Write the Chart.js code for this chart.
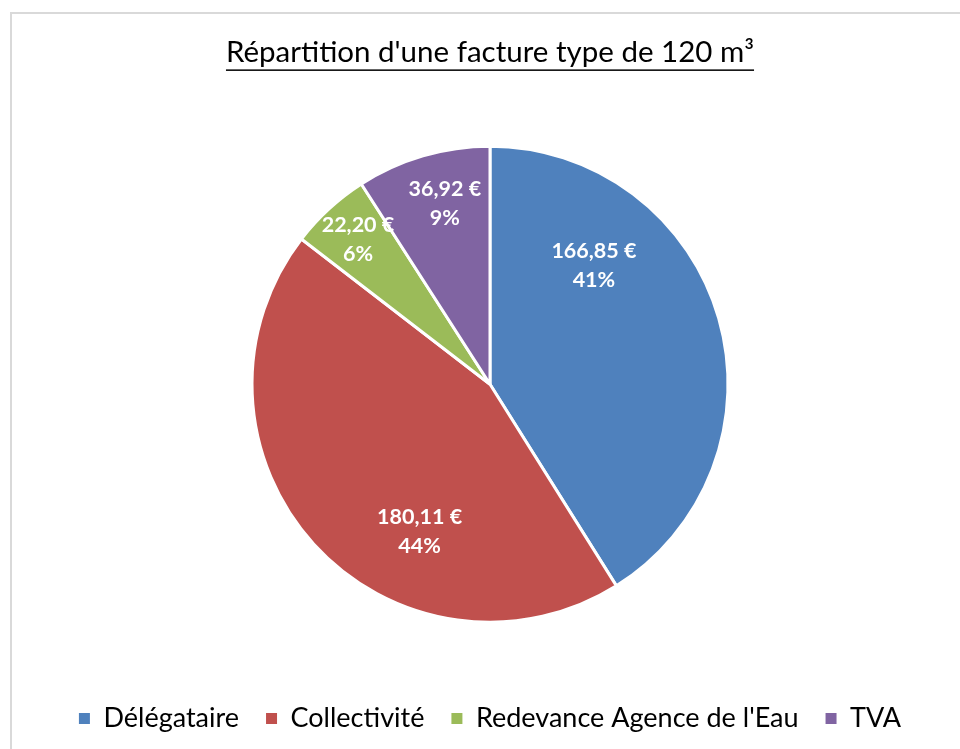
<!DOCTYPE html>
<html>
<head>
<meta charset="utf-8">
<script src="https://cdn.jsdelivr.net/npm/chart.js@4"></script>
<style>
	html, body { margin: 0; padding: 0; background: #fff; overflow: hidden; }
	body { width: 960px; height: 749px; position: relative; }
	#frame {
		position: absolute; left: 10px; top: 12px;
		width: 956px; height: 735px;
		border-left: 2px solid #d9d9d9; border-top: 2px solid #d9d9d9;
	}
</style>
</head>
<body>
<div id="frame"><canvas id="pie-chart" width="956" height="735"></canvas></div>
<script>
const categories = [ 'Délégataire', 'Collectivité', "Redevance Agence de l'Eau", 'TVA' ];
const amounts = [ 166.85, 180.11, 22.20, 36.92 ];
const percentLabels = [ '41%', '44%', '6%', '9%' ];
const colors = [ '#4F81BD', '#C0504D', '#9BBB59', '#8064A2' ];

// where Excel's "best fit" put each label: share of the slice's sweep, share of the radius
const labelSpots = [ [ 0.28, 0.66 ], [ 0.36, 0.69 ], [ 0.5, 0.82 ], [ 0.57, 0.78 ] ];

const font = 'Lato, "Open Sans", sans-serif';

const sliceLabels = {
	id: 'sliceLabels',
	afterDatasetsDraw( chart ) {
		const ctx = chart.ctx;
		const arcs = chart.getDatasetMeta( 0 ).data;
		ctx.save();
		ctx.fillStyle = '#fff';
		ctx.font = 'bold 21.5px ' + font;
		ctx.textAlign = 'center';
		ctx.textBaseline = 'middle';
		arcs.forEach( ( arc, i ) => {
			const p = arc.getProps( [ 'x', 'y', 'startAngle', 'endAngle', 'outerRadius' ], true );
			const a = p.startAngle + labelSpots[ i ][ 0 ] * ( p.endAngle - p.startAngle );
			const r = labelSpots[ i ][ 1 ] * p.outerRadius;
			const x = p.x + Math.cos( a ) * r;
			const y = p.y + Math.sin( a ) * r;
			const money = amounts[ i ].toFixed( 2 ).replace( '.', ',' ) + ' €';
			ctx.fillText( money, x, y - 15 );
			ctx.fillText( percentLabels[ i ], x, y + 14 );
		} );
		ctx.restore();
	},
};

const titleUnderline = {
	id: 'titleUnderline',
	afterDraw( chart ) {
		const t = chart.titleBlock;
		const ctx = chart.ctx;
		ctx.save();
		ctx.font = t.options.font.size + 'px ' + font;
		const w = ctx.measureText( t.options.text ).width;
		const cx = ( t.left + t.right ) / 2;
		const y = t.top + t.options.padding.top + t.options.font.size * 1.2 - 1;
		ctx.fillStyle = '#000';
		ctx.fillRect( cx - w / 2, y, w, 1.5 );
		ctx.restore();
	},
};

new Chart( document.getElementById( 'pie-chart' ), {
	type: 'pie',
	data: {
		labels: categories,
		datasets: [ {
			data: amounts,
			backgroundColor: colors,
			borderColor: '#fff',
			borderWidth: 3,
			radius: 238,
		} ],
	},
	options: {
		responsive: false,
		animation: false,
		layout: { padding: { top: 0, bottom: 7 } },
		plugins: {
			title: {
				display: true,
				text: "Répartition d'une facture type de 120 m³",
				color: '#000',
				font: { family: font, size: 29.5, weight: 'normal' },
				padding: { top: 21, bottom: 20 },
			},
			legend: {
				position: 'bottom',
				labels: {
					color: '#000',
					font: { family: font, size: 27 },
					boxWidth: 11,
					boxHeight: 11,
					padding: 27,
					generateLabels( chart ) {
						const items = Chart.overrides.pie.plugins.legend.labels.generateLabels( chart );
						items.forEach( ( item ) => { item.lineWidth = 0; } );
						return items;
					},
				},
			},
			tooltip: { enabled: false },
		},
	},
	plugins: [ sliceLabels, titleUnderline ],
} );
</script>
</body>
</html>
